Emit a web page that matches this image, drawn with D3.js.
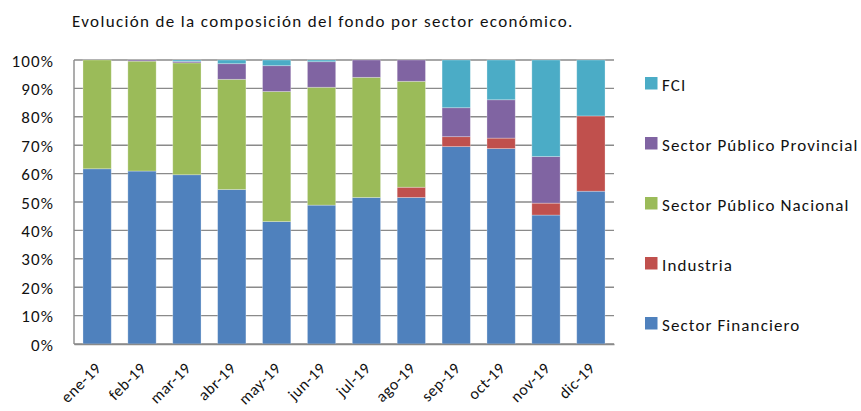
<!DOCTYPE html>
<html>
<head>
<meta charset="utf-8">
<script src="https://cdn.jsdelivr.net/npm/d3@7"></script>
<style>
  body { margin: 0; background: #fff; }
  text { font-family: Carlito, Lato, "Liberation Sans", sans-serif; fill: #111; letter-spacing: 1.1px; }
</style>
</head>
<body>
<svg id="chart" width="861" height="411"></svg>
<script>
// data (percent of fund)
const months = ["ene-19", "feb-19", "mar-19", "abr-19", "may-19", "jun-19",
                "jul-19", "ago-19", "sep-19", "oct-19", "nov-19", "dic-19"];
const seriesNames = ["Sector Financiero", "Industria", "Sector Público Nacional",
                     "Sector Público Provincial", "FCI"];
const financiero = [61.7, 60.9, 59.6, 54.4, 43.1, 48.9, 51.6, 51.6, 69.5, 68.8, 45.4, 53.8];
const industria  = [0, 0, 0, 0, 0, 0, 0, 3.6, 3.5, 3.7, 4.2, 26.5];
const nacional   = [38.3, 38.7, 39.4, 38.8, 45.8, 41.5, 42.3, 37.3, 0, 0, 0, 0];
const provincial = [0, 0.4, 0.5, 5.5, 9.1, 9.0, 6.1, 7.5, 10.2, 13.5, 16.4, 0];
const fci        = [0, 0, 0.5, 1.3, 2.0, 0.6, 0, 0, 16.8, 14.0, 34.0, 19.7];
const yTicks = [0, 10, 20, 30, 40, 50, 60, 70, 80, 90, 100];
const colors = ["#4f81bd", "#c0504d", "#9bbb59", "#8064a2", "#4bacc6"];

const margin = { top: 60, right: 247, bottom: 67, left: 74 };
const width = 861 - margin.left - margin.right;
const height = 411 - margin.top - margin.bottom;

const svg = d3.select("#chart");
const g = svg.append("g").attr("transform", `translate(${margin.left},${margin.top})`);

const rows = months.map((m, i) => ({
  month: m,
  [seriesNames[0]]: financiero[i],
  [seriesNames[1]]: industria[i],
  [seriesNames[2]]: nacional[i],
  [seriesNames[3]]: provincial[i],
  [seriesNames[4]]: fci[i]
}));
const stacked = d3.stack().keys(seriesNames).offset(d3.stackOffsetExpand)(rows);

const x = d3.scaleBand().domain(months).range([0, width]).paddingInner(0.37).paddingOuter(0.2);
const y = d3.scaleLinear().domain([0, 1]).range([height, 0]);
const color = d3.scaleOrdinal().domain(seriesNames).range(colors);

// title
svg.append("text")
  .attr("x", 72).attr("y", 27)
  .style("font-size", "17px")
  .style("letter-spacing", "1.35px")
  .text("Evolución de la composición del fondo por sector económico.");

// gridlines
g.append("g")
  .selectAll("line")
  .data(yTicks)
  .join("line")
  .attr("x1", 0).attr("x2", width)
  .attr("y1", d => y(d / 100)).attr("y2", d => y(d / 100))
  .attr("stroke", "#8a8a8a").attr("stroke-width", 1.4);

// bars
g.append("g")
  .selectAll("g")
  .data(stacked)
  .join("g")
  .attr("fill", d => color(d.key))
  .selectAll("rect")
  .data(d => d)
  .join("rect")
  .attr("x", d => x(d.data.month))
  .attr("y", d => y(d[1]))
  .attr("height", d => y(d[0]) - y(d[1]))
  .attr("width", x.bandwidth())
  .attr("stroke", "#ffffff").attr("stroke-opacity", 0.35).attr("stroke-width", 0.8);

// axes
g.append("line")
  .attr("x1", 0).attr("x2", 0).attr("y1", 0).attr("y2", height)
  .attr("stroke", "#8a8a8a").attr("stroke-width", 1.4);

const yAxis = g.append("g")
  .call(d3.axisLeft(y).tickValues(yTicks.map(d => d / 100)).tickFormat(d3.format(".0%")).tickSize(0).tickPadding(20));
yAxis.select(".domain").remove();
yAxis.selectAll("text").style("font-size", "17px").attr("fill", "#111").attr("dy", "0.36em");

const xAxis = g.append("g")
  .attr("transform", `translate(0,${height})`)
  .call(d3.axisBottom(x).tickSize(0));
xAxis.select(".domain").attr("stroke", "#8a8a8a").attr("stroke-width", 1.4);
xAxis.selectAll("text")
  .style("font-size", "16px")
  .style("letter-spacing", "0.6px")
  .attr("fill", "#111")
  .attr("text-anchor", "end")
  .attr("transform", `translate(${x.bandwidth() / 2 - 9},25) rotate(-45)`)
  .attr("x", 0).attr("y", 0).attr("dy", 0);

// legend, top entry is FCI
const legend = svg.append("g").attr("transform", "translate(645,77)");
seriesNames.slice().reverse().forEach((name, i) => {
  legend.append("rect")
    .attr("x", 0).attr("y", i * 60)
    .attr("width", 12.5).attr("height", 12.5)
    .attr("fill", color(name));
  legend.append("text")
    .attr("x", 17).attr("y", i * 60 + 14)
    .style("font-size", "17px")
    .text(name);
});
</script>
</body>
</html>
